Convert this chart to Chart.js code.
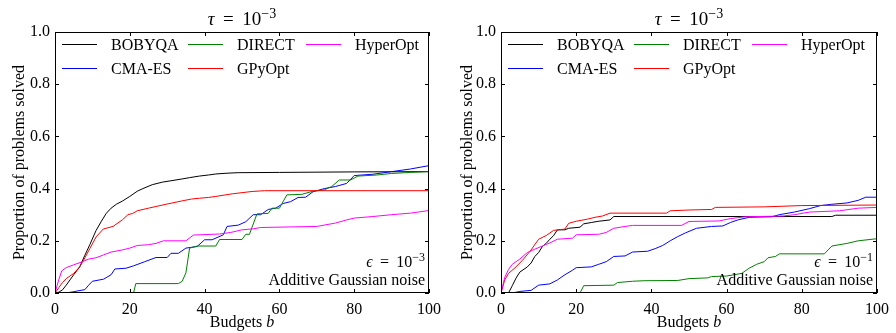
<!DOCTYPE html>
<html>
<head>
<meta charset="utf-8">
<script src="https://cdn.jsdelivr.net/npm/chart.js@4.4.0/dist/chart.umd.min.js"></script>
<style>
html, body { margin: 0; padding: 0; background: #fff; }
#wrap { display: flex; width: 896px; height: 333px; }
canvas { display: block; }
</style>
</head>
<body>
<div id="wrap">
  <canvas id="left" width="448" height="333"></canvas>
  <canvas id="right" width="448" height="333"></canvas>
</div>
<script>
// Budget b vs. proportion solved
const xTicks = [0, 20, 40, 60, 80, 100];
const yTicks = [0, 0.2, 0.4, 0.6, 0.8, 1.0];
const solvers = ['BOBYQA', 'CMA-ES', 'DIRECT', 'GPyOpt', 'HyperOpt'];
const colors = ['#000000', '#0000ff', '#008000', '#ff0000', '#ff00ff'];

// left panel, eps = 1e-3
const leftBobyqa = [[0,0],[1,0.003],[2,0.012],[3,0.03],[4,0.05],[5,0.07],[6.6,0.10],[8,0.145],[9.3,0.185],[11,0.24],[12.4,0.275],[13.7,0.305],[15,0.325],[16.4,0.34],[18,0.352],[20,0.37],[22,0.39],[23.5,0.40],[26,0.415],[28.8,0.425],[31,0.43],[34,0.437],[36,0.442],[38.6,0.448],[41,0.452],[43,0.456],[46,0.459],[49,0.461],[60,0.462],[80,0.464],[100,0.465]];
const leftCma = [[0,0],[3,0],[5,0.005],[8,0.013],[9,0.03],[10,0.045],[13,0.053],[15,0.07],[16,0.092],[19,0.095],[21,0.104],[24,0.12],[27,0.136],[30,0.136],[31,0.152],[33,0.152],[35,0.172],[38,0.178],[40,0.204],[42,0.204],[45,0.223],[46,0.255],[49,0.26],[51,0.273],[53,0.30],[55,0.30],[57,0.32],[59,0.325],[61,0.343],[63,0.35],[65,0.366],[67,0.367],[69,0.388],[72,0.40],[75,0.408],[78,0.42],[80,0.45],[85,0.455],[90,0.465],[95,0.475],[100,0.488]];
const leftDirect = [[0,0],[21,0],[21.6,0.036],[33,0.036],[34,0.045],[35,0.077],[36,0.172],[38,0.18],[43,0.18],[44,0.205],[50,0.205],[51,0.225],[52,0.225],[54,0.303],[57,0.305],[58,0.325],[60,0.325],[62,0.376],[66,0.378],[69,0.39],[72,0.395],[74,0.408],[76,0.433],[79,0.433],[81,0.448],[86,0.452],[90,0.458],[95,0.462],[100,0.465]];
const leftGpyopt = [[0,0],[1,0.02],[2,0.04],[3,0.055],[5,0.075],[6.6,0.10],[8,0.135],[9.3,0.17],[11,0.215],[12.9,0.245],[15.5,0.255],[18,0.28],[19.5,0.30],[20.8,0.305],[22,0.315],[25,0.325],[29.7,0.34],[34,0.353],[36.5,0.36],[38.6,0.363],[41,0.366],[43,0.37],[47.4,0.38],[52.7,0.389],[56,0.392],[100,0.392]];
const leftHyper = [[0,0],[1,0.05],[1.8,0.085],[3,0.097],[5,0.108],[7,0.118],[9,0.13],[11,0.135],[13,0.146],[15,0.157],[18,0.165],[20,0.172],[22,0.182],[25,0.185],[27,0.19],[29,0.2],[35,0.2],[37,0.222],[44,0.226],[47,0.232],[50,0.242],[53,0.246],[55,0.251],[70,0.255],[75,0.268],[78,0.28],[80,0.287],[85,0.293],[90,0.3],[95,0.306],[100,0.316]];

// right panel, eps = 1e-1
const rightBobyqa = [[0,0],[2,0],[3,0.028],[4,0.057],[5,0.08],[7,0.10],[8,0.115],[9,0.14],[10,0.155],[11,0.178],[12,0.19],[13,0.206],[14,0.22],[15,0.242],[17,0.242],[18,0.248],[21,0.252],[22,0.265],[24,0.27],[26,0.275],[29,0.28],[30,0.293],[88,0.293],[89,0.298],[100,0.298]];
const rightCma = [[0,0],[3,0],[5,0.006],[8,0.01],[10,0.03],[13,0.035],[15,0.05],[17,0.07],[19,0.087],[20,0.097],[24,0.10],[26,0.11],[28,0.12],[30,0.14],[33,0.142],[35,0.157],[39,0.16],[41,0.17],[43,0.182],[45,0.2],[47,0.216],[49,0.23],[52,0.248],[56,0.255],[59,0.257],[61,0.27],[63,0.28],[66,0.29],[72,0.292],[74,0.30],[78,0.31],[82,0.323],[85,0.335],[88,0.34],[92,0.345],[95,0.355],[97,0.367],[100,0.367]];
const rightDirect = [[0,0],[21,0],[22,0.028],[30,0.03],[31,0.04],[35,0.045],[38,0.047],[47,0.048],[50,0.055],[55,0.058],[56,0.063],[60,0.065],[64,0.075],[66,0.095],[68,0.11],[70,0.12],[71,0.135],[73,0.14],[74,0.15],[86,0.15],[87,0.165],[88,0.18],[92,0.19],[95,0.2],[100,0.208]];
const rightGpyopt = [[0,0],[1,0.05],[2,0.075],[4,0.1],[6,0.13],[8,0.165],[10,0.206],[12,0.22],[14,0.24],[17,0.245],[18,0.267],[20,0.275],[23,0.283],[25,0.29],[27,0.295],[29,0.306],[44,0.306],[45,0.315],[50,0.318],[56,0.32],[57,0.328],[70,0.33],[80,0.335],[100,0.337]];
const rightHyper = [[0,0],[1,0.06],[2,0.09],[3,0.11],[5,0.13],[7,0.155],[9,0.168],[11,0.18],[13,0.192],[15,0.206],[19,0.21],[20,0.223],[26,0.225],[28,0.232],[30,0.248],[33,0.255],[35,0.259],[48,0.259],[50,0.274],[58,0.276],[61,0.285],[65,0.292],[75,0.295],[78,0.30],[82,0.31],[90,0.315],[95,0.325],[100,0.328]];

// pick an installed serif face (width test against monospace fallback)
function pickSerif() {
    const c = document.createElement('canvas').getContext('2d');
    const probe = 'BOBYQA mmmwwwlliI 0.123';
    c.font = '40px monospace';
    const mono = c.measureText(probe).width;
    const names = ['Liberation Serif', 'DejaVu Serif', 'Times New Roman', 'Tinos', 'Noto Serif', 'FreeSerif'];
    for (const n of names) {
        c.font = '40px "' + n + '", monospace';
        if (Math.abs(c.measureText(probe).width - mono) > 0.5) return '"' + n + '", serif';
    }
    return 'serif';
}
const FONT = pickSerif();

// "sym = base^sup" with TeX-like spacing round the equals sign
function drawMath(ctx, sym, base, sup, x, y, size, align) {
    const gap = size * 0.45;
    const supSize = Math.round(size * 0.75);
    ctx.font = 'italic ' + size + 'px ' + FONT;
    const wSym = ctx.measureText(sym).width;
    ctx.font = size + 'px ' + FONT;
    const wEq = ctx.measureText('=').width;
    const wBase = ctx.measureText(base).width;
    ctx.font = supSize + 'px ' + FONT;
    const wSup = ctx.measureText(sup).width;
    const total = wSym + gap + wEq + gap + wBase + wSup;
    let x0 = align === 'right' ? x - total : align === 'center' ? x - total / 2 : x;
    ctx.textAlign = 'left';
    ctx.textBaseline = 'alphabetic';
    ctx.font = 'italic ' + size + 'px ' + FONT;
    ctx.fillText(sym, x0, y);
    x0 += wSym + gap;
    ctx.font = size + 'px ' + FONT;
    ctx.fillText('=', x0, y);
    x0 += wEq + gap;
    ctx.fillText(base, x0, y);
    x0 += wBase;
    ctx.font = supSize + 'px ' + FONT;
    ctx.fillText(sup, x0, y - size * 0.36);
}

const decor = {
    id: 'decor',
    afterDatasetsDraw(chart, args, opts) {
        const ctx = chart.ctx;
        const a = chart.chartArea;
        const xs = chart.scales.x, ys = chart.scales.y;
        ctx.save();
        ctx.strokeStyle = '#000';
        ctx.fillStyle = '#000';
        ctx.lineWidth = 1;
        // frame
        ctx.strokeRect(a.left + 0.5, a.top + 0.5, a.right - a.left - 1, a.bottom - a.top - 1);
        // inward ticks on all four sides
        const tl = 4;
        ctx.beginPath();
        xTicks.forEach(v => {
            const px = Math.round(xs.getPixelForValue(v)) + 0.5;
            ctx.moveTo(px, a.bottom); ctx.lineTo(px, a.bottom - tl);
            ctx.moveTo(px, a.top); ctx.lineTo(px, a.top + tl);
        });
        yTicks.forEach(v => {
            const py = Math.round(ys.getPixelForValue(v)) + 0.5;
            ctx.moveTo(a.left, py); ctx.lineTo(a.left + tl, py);
            ctx.moveTo(a.right, py); ctx.lineTo(a.right - tl, py);
        });
        ctx.stroke();

        const cx = (a.left + a.right) / 2;
        // title
        drawMath(ctx, 'τ', '10', '−3', cx, 25, 19, 'center');

        // x label
        ctx.font = '16px ' + FONT;
        const w1 = ctx.measureText('Budgets ').width;
        ctx.font = 'italic 16px ' + FONT;
        const w2 = ctx.measureText('b').width;
        ctx.textAlign = 'left';
        ctx.textBaseline = 'alphabetic';
        ctx.font = '16px ' + FONT;
        ctx.fillText('Budgets ', cx - (w1 + w2) / 2, 327);
        ctx.font = 'italic 16px ' + FONT;
        ctx.fillText('b', cx - (w1 + w2) / 2 + w1, 327);

        // y label
        ctx.save();
        ctx.translate(24, (a.top + a.bottom) / 2);
        ctx.rotate(-Math.PI / 2);
        ctx.font = '16px ' + FONT;
        ctx.textAlign = 'center';
        ctx.fillText('Proportion of problems solved', 0, 0);
        ctx.restore();

        // noise note, bottom right
        drawMath(ctx, 'ϵ', '10', opts.eps, a.right - 4, 267, 16, 'right');
        ctx.font = '16px ' + FONT;
        ctx.textAlign = 'right';
        ctx.fillText('Additive Gaussian noise', a.right - 4, 285);

        // legend, column-major like matplotlib (ncol=3)
        const colX = [7, 133, 251];
        const rowY = [44.5, 68.5];
        solvers.forEach((name, i) => {
            const col = Math.floor(i / 2), row = i % 2;
            const lx = a.left + colX[col], ly = rowY[row];
            ctx.strokeStyle = colors[i];
            ctx.beginPath();
            ctx.moveTo(lx, ly); ctx.lineTo(lx + 35, ly);
            ctx.stroke();
            ctx.fillStyle = '#000';
            ctx.font = '16px ' + FONT;
            ctx.textAlign = 'left';
            ctx.fillText(name, lx + 49, ly + 5.5);
        });
        ctx.restore();
    }
};

function makeChart(id, series, eps, axisWidth, rightPad) {
    const datasets = series.map((pts, i) => ({
        label: solvers[i],
        data: pts.map(p => ({ x: p[0], y: p[1] })),
        borderColor: colors[i],
        borderWidth: 1,
        pointRadius: 0,
        tension: 0,
        fill: false,
        order: 5 - i
    }));
    return new Chart(document.getElementById(id), {
        type: 'line',
        data: { datasets: datasets },
        plugins: [decor],
        options: {
            responsive: false,
            animation: false,
            devicePixelRatio: 1,
            layout: { padding: { top: 32, right: rightPad, left: 0, bottom: 0 } },
            plugins: {
                legend: { display: false },
                title: { display: false },
                tooltip: { enabled: false },
                decor: { eps: eps }
            },
            scales: {
                x: {
                    type: 'linear',
                    min: 0, max: 100,
                    afterBuildTicks: s => { s.ticks = xTicks.map(v => ({ value: v })); },
                    afterFit: s => { s.height = 40; },
                    grid: { display: false, drawTicks: false },
                    border: { display: false },
                    ticks: { color: '#000', padding: 7, maxRotation: 0, font: { family: FONT, size: 16 } }
                },
                y: {
                    type: 'linear',
                    min: 0, max: 1,
                    afterBuildTicks: s => { s.ticks = yTicks.map(v => ({ value: v })); },
                    afterFit: s => { s.width = axisWidth; },
                    grid: { display: false, drawTicks: false },
                    border: { display: false },
                    ticks: { color: '#000', padding: 5, font: { family: FONT, size: 16 },
                             callback: v => v.toFixed(1) }
                }
            }
        }
    });
}

makeChart('left', [leftBobyqa, leftCma, leftDirect, leftGpyopt, leftHyper], '−3', 55, 17);
makeChart('right', [rightBobyqa, rightCma, rightDirect, rightGpyopt, rightHyper], '−1', 53, 19);
</script>
</body>
</html>
